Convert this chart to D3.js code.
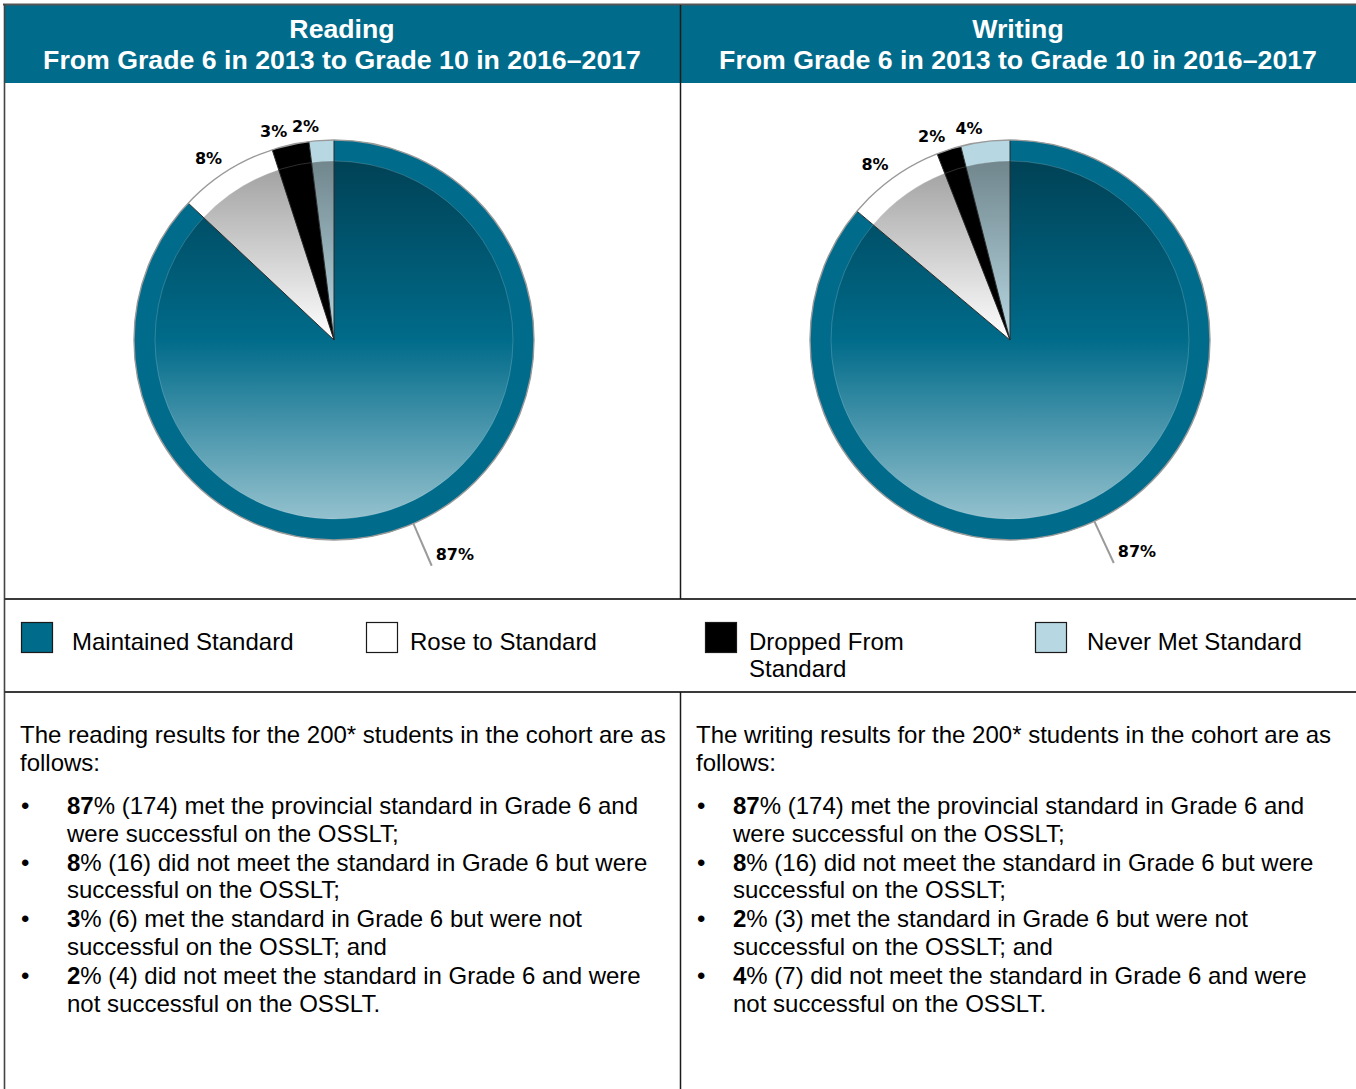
<!DOCTYPE html>
<html>
<head>
<meta charset="utf-8">
<script src="https://cdn.jsdelivr.net/npm/d3@7"></script>
<style>
  html, body { margin: 0; padding: 0; background: #ffffff; }
  svg { display: block; }
</style>
</head>
<body>
<svg id="chart" width="1356" height="1089"></svg>
<script>
// ---------------- DATA ----------------
const categories = ["Maintained Standard", "Rose to Standard", "Dropped From Standard", "Never Met Standard"];
const legendLines = [["Maintained Standard"], ["Rose to Standard"], ["Dropped From", "Standard"], ["Never Met Standard"]];
const categoryColors = ["#006b8a", "#ffffff", "#000000", "#b7d8e3"];

const panelTitles = ["Reading", "Writing"];
const panelSubtitle = "From Grade 6 in 2013 to Grade 10 in 2016\u20132017";

const readingPercents = [87, 8, 3, 2];
const writingPercents = [87, 8, 2, 4];
const readingCounts = [174, 16, 6, 4];
const writingCounts = [174, 16, 3, 7];

const introLines = [
  ["The reading results for the 200* students in the cohort are as", "follows:"],
  ["The writing results for the 200* students in the cohort are as", "follows:"]
];
// item sentences: the first line follows "<pct>% (<count>)"
const itemLinesReading = [
  [" met the provincial standard in Grade 6 and", "were successful on the OSSLT;"],
  [" did not meet the standard in Grade 6 but were", "successful on the OSSLT;"],
  [" met the standard in Grade 6 but were not", "successful on the OSSLT; and"],
  [" did not meet the standard in Grade 6 and were", "not successful on the OSSLT."]
];
const itemLinesWriting = itemLinesReading;

const panels = [
  { title: panelTitles[0], values: readingPercents, counts: readingCounts, intro: introLines[0], items: itemLinesReading, indent: 63 },
  { title: panelTitles[1], values: writingPercents, counts: writingCounts, intro: introLines[1], items: itemLinesWriting, indent: 53 }
];

// ---------------- LAYOUT ----------------
const W = 1356, H = 1089;
const left = 4, colW = 676;
const headerTop = 5, headerBottom = 83;
const pieRowBottom = 599, legendBottom = 692;
const teal = "#006b8a";
const sans = "'Liberation Sans', Arial, sans-serif";
const labelFont = "'DejaVu Sans', Verdana, sans-serif";

const svg = d3.select("#chart");
const defs = svg.append("defs");

// header background
svg.append("rect").attr("x", left).attr("y", headerTop).attr("width", W - left).attr("height", headerBottom - headerTop).attr("fill", teal);

// header text
panels.forEach((p, i) => {
  const cx = left + colW * i + colW / 2;
  const t = svg.append("text").attr("text-anchor", "middle").attr("fill", "#fff")
    .attr("font-family", sans).attr("font-weight", "bold").attr("font-size", 26.7);
  t.append("tspan").attr("x", cx).attr("y", 37.5).text(p.title);
  t.append("tspan").attr("x", cx).attr("y", 68.5).text(panelSubtitle);
});

// ---------------- PIES ----------------
const R = 200, Rin = 179;
const pie = d3.pie().sort(null).value(d => d.v);
const arcOuter = d3.arc().innerRadius(0).outerRadius(R);
const arcInner = d3.arc().innerRadius(0).outerRadius(Rin);

panels.forEach((p, pi) => {
  const cx = left + colW * pi + 330, cy = 340;
  const data = p.values.map((v, k) => ({ v, k, color: categoryColors[k] }));
  const arcs = pie(data);
  const g = svg.append("g").attr("transform", `translate(${cx},${cy})`);

  // gradients per category
  data.forEach(d => {
    const id = `grad-${pi}-${d.k}`;
    const lg = defs.append("linearGradient").attr("id", id)
      .attr("gradientUnits", "userSpaceOnUse")
      .attr("x1", 0).attr("y1", -Rin).attr("x2", 0).attr("y2", Rin);
    lg.append("stop").attr("offset", 0).attr("stop-color", d3.interpolateRgb(d.color, "#000")(0.38));
    lg.append("stop").attr("offset", 0.5).attr("stop-color", d.color);
    lg.append("stop").attr("offset", 1).attr("stop-color", d3.interpolateRgb(d.color, "#fff")(0.58));
    d.grad = id;
  });

  // outer ring (base colours)
  g.selectAll("path.ring").data(arcs).join("path").attr("class", "ring")
    .attr("d", arcOuter).attr("fill", d => d.data.color);
  // inner gradient wedges
  g.selectAll("path.inner").data(arcs).join("path").attr("class", "inner")
    .attr("d", arcInner).attr("fill", d => `url(#${d.data.grad})`);
  // subtle inner edge
  g.append("circle").attr("r", Rin).attr("fill", "none").attr("stroke", "rgba(255,255,255,0.18)").attr("stroke-width", 1);
  // radial boundaries
  g.selectAll("line.sep").data(arcs).join("line").attr("class", "sep")
    .attr("x1", 0).attr("y1", 0)
    .attr("x2", d => R * Math.sin(d.startAngle)).attr("y2", d => -R * Math.cos(d.startAngle))
    .attr("stroke", "#2a2a2a").attr("stroke-width", 1);
  // outer edge
  g.append("circle").attr("r", R).attr("fill", "none").attr("stroke", "#9a9a9a").attr("stroke-width", 1.4);

  // labels
  const maxV = d3.max(p.values);
  arcs.forEach(a => {
    const mid = (a.startAngle + a.endAngle) / 2;
    const s = Math.sin(mid), c = Math.cos(mid);
    const label = a.data.v + "%";
    if (a.data.v === maxV) {
      const r2 = 246;
      const x1 = R * s, y1 = -R * c, x2 = r2 * s, y2 = -r2 * c;
      g.append("line").attr("x1", x1).attr("y1", y1).attr("x2", x2).attr("y2", y2)
        .attr("stroke", "#9a9a9a").attr("stroke-width", 2);
      g.append("text").attr("x", x2 + 4).attr("y", y2 - 6)
        .attr("font-family", labelFont).attr("font-weight", "bold").attr("font-size", 16)
        .attr("fill", "#000").text(label);
    } else {
      const r1 = 205;
      const px = r1 * s, py = -r1 * c;
      g.append("text")
        .attr("x", s < 0 ? px - 2 : px + 2)
        .attr("y", c > 0 ? py - 3 : py + 15)
        .attr("text-anchor", s < 0 ? "end" : "start")
        .attr("font-family", labelFont).attr("font-weight", "bold").attr("font-size", 16)
        .attr("fill", "#000").text(label);
    }
  });
});

// ---------------- LEGEND ----------------
const legendX = [21, 366, 705, 1035];
const legendTextX = [72, 410, 749, 1087];
categories.forEach((c, k) => {
  svg.append("rect").attr("x", legendX[k] + 0.5).attr("y", 622.5).attr("width", 31).attr("height", 30)
    .attr("fill", categoryColors[k]).attr("stroke", "#1a1a1a").attr("stroke-width", 1.2);
  const t = svg.append("text").attr("font-family", sans).attr("font-size", 24).attr("fill", "#000");
  legendLines[k].forEach((ln, j) => {
    t.append("tspan").attr("x", legendTextX[k]).attr("y", 650 + j * 27).text(ln);
  });
});

// ---------------- TEXT BLOCKS ----------------
panels.forEach((p, pi) => {
  const x0 = left + colW * pi;
  const t = svg.append("text").attr("font-family", sans).attr("font-size", 24).attr("fill", "#000");
  p.intro.forEach((ln, j) => t.append("tspan").attr("x", x0 + 16).attr("y", 743 + j * 27.5).text(ln));
  p.items.forEach((lines, i) => {
    const y = 814 + i * 56.7;
    svg.append("text").attr("x", x0 + 17).attr("y", y).attr("font-family", sans).attr("font-size", 24).text("\u2022");
    const tt = svg.append("text").attr("font-family", sans).attr("font-size", 24).attr("fill", "#000");
    const l1 = tt.append("tspan").attr("x", x0 + p.indent).attr("y", y);
    l1.append("tspan").attr("font-weight", "bold").text(p.values[i]);
    l1.append("tspan").text(`% (${p.counts[i]})` + lines[0]);
    tt.append("tspan").attr("x", x0 + p.indent).attr("y", y + 27.5).text(lines[1]);
  });
});

// ---------------- TABLE LINES ----------------
svg.append("line").attr("x1", left - 1).attr("x2", W).attr("y1", 4.5).attr("y2", 4.5).attr("stroke", "#555").attr("stroke-width", 2);
svg.append("line").attr("x1", 4.5).attr("x2", 4.5).attr("y1", 4).attr("y2", H).attr("stroke", "#444").attr("stroke-width", 1.6);
[pieRowBottom, legendBottom].forEach(y => {
  svg.append("line").attr("x1", 4).attr("x2", W).attr("y1", y).attr("y2", y).attr("stroke", "#3a3a3a").attr("stroke-width", 2);
});
[[headerTop, pieRowBottom], [legendBottom, H]].forEach(([y1, y2]) => {
  svg.append("line").attr("x1", left + colW + 0.5).attr("x2", left + colW + 0.5).attr("y1", y1).attr("y2", y2)
    .attr("stroke", "#1a1a1a").attr("stroke-width", 1.5);
});
</script>
</body>
</html>
